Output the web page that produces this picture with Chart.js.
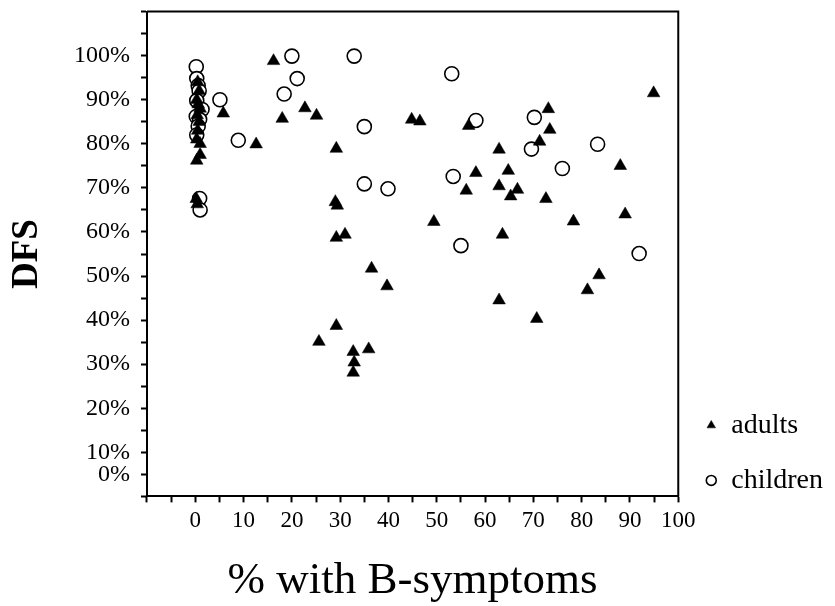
<!DOCTYPE html>
<html>
<head>
<meta charset="utf-8">
<script src="https://cdn.jsdelivr.net/npm/chart.js@4/dist/chart.umd.min.js"></script>
<style>
  html, body { margin: 0; padding: 0; background: #ffffff; }
  #wrap { width: 835px; height: 606px; }
</style>
</head>
<body>
<div id="wrap"><canvas id="c" width="835" height="606"></canvas></div>
<script>
// Data (x = % with B-symptoms, y = DFS %)
const adultsX = [0.5, 0.8, 0.3, 0.6, 1.0, 0.4, 0.8, 0.5, 0.3, 1.0, 1.0, 0.3, 0.2, 0.4,
  5.8, 12.6, 16.2, 18.0, 22.7, 25.1, 29.2, 29.0, 29.4, 49.4, 29.2, 31.0, 36.5, 39.7,
  29.2, 25.6, 32.7, 35.9, 32.9, 32.7, 44.8, 46.5, 56.6, 56.1, 58.1, 94.9, 73.1, 73.4,
  71.3, 62.9, 88.0, 64.8, 62.9, 66.7, 65.3, 72.6, 89.0, 78.3, 63.6, 83.6, 81.2, 62.9, 70.7];
const adultsY = [94, 92, 90, 89, 88, 86.5, 85, 83, 81, 80, 77.5, 76.2, 67.5, 66.3,
  86.9, 79.9, 98.8, 85.7, 88.1, 86.4, 78.9, 66.8, 66.0, 62.3, 58.7, 59.4, 51.7, 47.7,
  38.7, 35.1, 32.8, 33.4, 30.4, 28.1, 85.5, 85.1, 84.1, 69.4, 73.4, 91.5, 87.9, 83.2,
  80.5, 78.7, 75.0, 73.9, 70.4, 69.6, 68.1, 67.5, 64.0, 62.4, 59.4, 50.2, 46.8, 44.5, 40.3];

const childrenX = [0.2, 0.3, 0.6, 0.8, 0.3, 1.4, 0.2, 0.9, 0.6, 0.3, 0.9, 1.0,
  5.1, 8.9, 20.0, 21.1, 18.4, 32.9, 35.0, 35.0, 39.9, 53.1, 58.1, 53.4, 55.0,
  70.2, 69.6, 83.3, 76.0, 91.9];
const childrenY = [97.5, 94.8, 93.2, 92, 89.8, 87.8, 86.2, 85.5, 84, 82, 67.6, 65,
  90, 80.8, 99.9, 94.8, 91.3, 99.9, 83.9, 70.9, 69.8, 95.9, 85.3, 72.6, 56.9,
  86.0, 78.8, 79.9, 74.4, 55.1];

const seriesNames = ["adults", "children"];
const xTickValues = [0, 10, 20, 30, 40, 50, 60, 70, 80, 90, 100];
const yTickValues = [10, 20, 30, 40, 50, 60, 70, 80, 90, 100];

const toPoints = (xs, ys) => xs.map((x, i) => ({ x: x, y: ys[i] }));

const SERIF = "'Liberation Serif', 'DejaVu Serif', serif";

const frame = {
  id: 'frame',
  afterDatasetsDraw(chart) {
    const a = chart.chartArea;
    const ctx = chart.ctx;
    ctx.save();
    ctx.strokeStyle = '#000';
    ctx.lineWidth = 2;
    ctx.beginPath();
    ctx.moveTo(a.left, a.top);
    ctx.lineTo(a.right, a.top);
    ctx.lineTo(a.right, a.bottom);
    ctx.stroke();
    ctx.restore();
  }
};

new Chart(document.getElementById('c'), {
  type: 'scatter',
  data: {
    datasets: [
      {
        label: seriesNames[0],
        data: toPoints(adultsX, adultsY),
        pointStyle: 'triangle',
        pointRadius: 7.3,
        pointHoverRadius: 7.3,
        backgroundColor: '#000',
        borderColor: '#000',
        borderWidth: 0.5
      },
      {
        label: seriesNames[1],
        data: toPoints(childrenX, childrenY),
        pointStyle: 'circle',
        pointRadius: 7,
        pointHoverRadius: 7,
        backgroundColor: '#fff',
        borderColor: '#000',
        borderWidth: 1.6
      }
    ]
  },
  options: {
    responsive: false,
    devicePixelRatio: 1,
    animation: false,
    layout: { padding: { left: 0, right: 2, top: 0, bottom: 0 } },
    plugins: {
      tooltip: { enabled: false },
      legend: {
        position: 'right',
        align: 'start',
        title: { display: true, text: '', font: { size: 12 }, padding: { top: 370, bottom: 0 } },
        labels: {
          usePointStyle: true,
          boxWidth: 12,
          boxHeight: 7,
          padding: 27,
          color: '#000',
          font: { family: SERIF, size: 28 }
        }
      }
    },
    scales: {
      x: {
        type: 'linear',
        min: -10,
        max: 100,
        afterBuildTicks: (s) => { s.ticks = []; for (let v = -10; v <= 100; v += 5) s.ticks.push({ value: v }); },
        ticks: {
          autoSkip: false,
          maxRotation: 0,
          padding: 5,
          color: '#000',
          font: { family: SERIF, size: 23 },
          callback: (v) => xTickValues.includes(v) ? String(v) : ''
        },
        grid: { drawOnChartArea: false, drawTicks: true, tickLength: 6, tickWidth: 2, tickColor: '#000' },
        border: { display: true, color: '#000', width: 2 },
        title: {
          display: true,
          text: '% with B-symptoms',
          color: '#000',
          font: { family: SERIF, size: 45, lineHeight: 1 },
          padding: { top: 19, bottom: 2 }
        }
      },
      y: {
        type: 'linear',
        min: 0,
        max: 110,
        afterBuildTicks: (s) => { s.ticks = []; for (let v = 0; v <= 110; v += 5) s.ticks.push({ value: v }); },
        ticks: {
          autoSkip: false,
          padding: 11,
          color: '#000',
          font: (ctx) => ({ family: SERIF, size: (ctx.tick && ctx.tick.value === 110) ? 1 : 24 }),
          callback: (v) => v === 5 ? '0%' : (yTickValues.includes(v) ? v + '%' : '')
        },
        grid: { drawOnChartArea: false, drawTicks: true, tickLength: 6, tickWidth: 2, tickColor: '#000' },
        border: { display: true, color: '#000', width: 2 },
        title: {
          display: true,
          text: 'DFS',
          color: '#000',
          font: { family: SERIF, size: 37, weight: 'bold', lineHeight: 1 },
          padding: { top: 9, bottom: 17 }
        }
      }
    }
  },
  plugins: [frame]
});
</script>
</body>
</html>
